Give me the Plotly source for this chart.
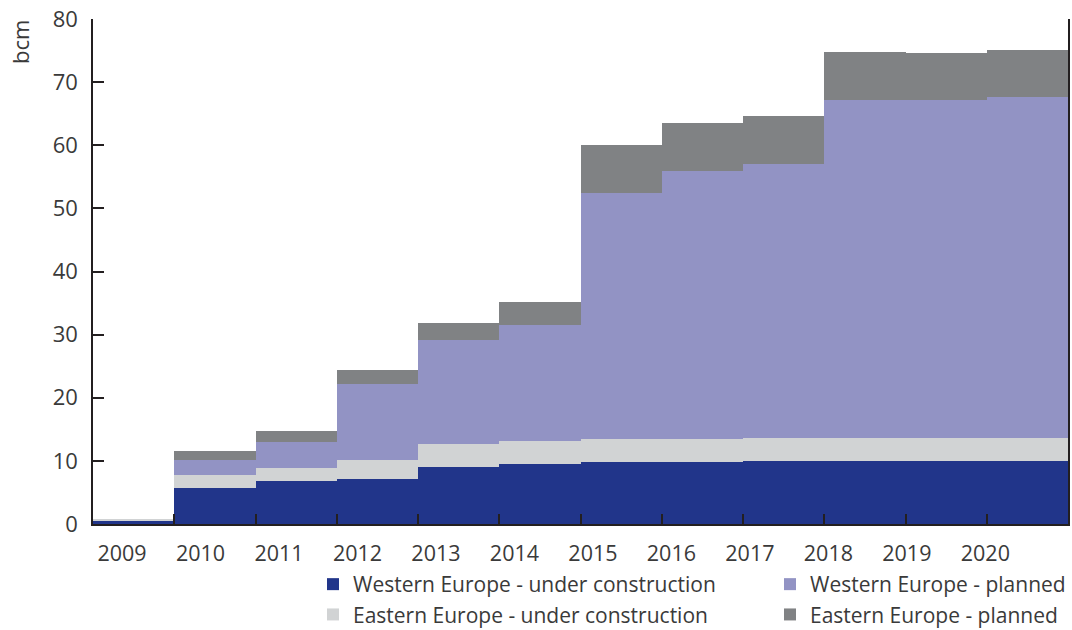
import plotly.graph_objects as go

years = ["2009", "2010", "2011", "2012", "2013", "2014", "2015", "2016", "2017", "2018", "2019", "2020"]
west_uc = [0.4, 5.7, 6.8, 7.1, 9.0, 9.5, 9.8, 9.8, 10.0, 10.0, 10.0, 10.0]
east_uc = [0.4, 2.1, 2.1, 3.1, 3.7, 3.7, 3.7, 3.7, 3.7, 3.7, 3.7, 3.7]
west_pl = [0.0, 2.4, 4.1, 11.9, 16.5, 18.4, 38.9, 42.4, 43.4, 53.4, 53.4, 53.9]
east_pl = [0.0, 1.4, 1.8, 2.3, 2.7, 3.6, 7.6, 7.6, 7.6, 7.6, 7.5, 7.5]

names = ["Western Europe - under construction", "Eastern Europe - under construction",
         "Western Europe - planned", "Eastern Europe - planned"]
colors = ["#21358a", "#d1d3d4", "#9293c4", "#808284"]
legends = ["legend", "legend", "legend2", "legend2"]

FONT = "Open Sans"
TXT = "#3a3a3a"

n = len(years)
xpos = [i + 0.5 for i in range(n)]

fig = go.Figure()
for vals, name, col, lg in zip([west_uc, east_uc, west_pl, east_pl], names, colors, legends):
    fig.add_trace(go.Bar(x=xpos, y=vals, width=[1.0] * n, name=name, legend=lg,
                         marker=dict(color=col, line=dict(width=0)), hoverinfo="skip"))

# label positions: evenly spaced, slightly tighter than the step width
lab_start, lab_step = 0.357, 0.966
lab_pos = [lab_start + k * lab_step for k in range(n)]

fig.update_layout(
    width=1072, height=630,
    margin=dict(l=93, r=4, t=19, b=106, autoexpand=False),
    paper_bgcolor="white", plot_bgcolor="white",
    barmode="stack", bargap=0,
    font=dict(family=FONT, color=TXT, size=21),
    xaxis=dict(range=[0, n], tickvals=list(range(1, n)), ticks="inside", ticklen=10,
               tickwidth=1.5, tickcolor="#231f20", showticklabels=False,
               showline=True, linecolor="#231f20", linewidth=1.5, showgrid=False,
               zeroline=False, fixedrange=True, automargin=False),
    xaxis2=dict(range=[0, n], overlaying="x", side="bottom", anchor="y",
                tickvals=lab_pos, ticktext=years, ticks="", showline=False,
                showgrid=False, zeroline=False, automargin=False, ticklabelstandoff=14,
                tickfont=dict(family=FONT, size=21.5, color=TXT)),
    yaxis=dict(range=[0, 80], tickvals=list(range(0, 81, 10)), ticks="inside",
               ticklen=11, tickwidth=1.5, tickcolor="#231f20",
               showline=True, mirror=True, linecolor="#231f20", linewidth=1.5,
               showgrid=False, zeroline=False, ticklabelstandoff=9, automargin=False,
               tickfont=dict(family=FONT, size=22, color=TXT)),
    legend=dict(x=(313 - 93) / 975, xanchor="left", y=-0.0792, yanchor="top",
                traceorder="normal",
                font=dict(family=FONT, size=21, color=TXT), bgcolor="rgba(0,0,0,0)"),
    legend2=dict(x=(770 - 93) / 975, xanchor="left", y=-0.0792, yanchor="top",
                 traceorder="normal",
                 font=dict(family=FONT, size=21, color=TXT), bgcolor="rgba(0,0,0,0)"),
    annotations=[dict(text="bcm", x=(20 - 93) / 975, y=(524 - 42) / 505,
                      xref="paper", yref="paper", showarrow=False,
                      xanchor="center", yanchor="middle",
                      textangle=-90, font=dict(family=FONT, size=22, color=TXT))],
)
# dummy invisible trace to make sure xaxis2 is drawn
fig.add_trace(go.Scatter(x=[0, n], y=[None, None], xaxis="x2", showlegend=False,
                         hoverinfo="skip", mode="lines"))

fig.write_html("out.html", config={"displayModeBar": False},
               post_script="document.body.style.margin='0';document.body.style.overflow='hidden';")
